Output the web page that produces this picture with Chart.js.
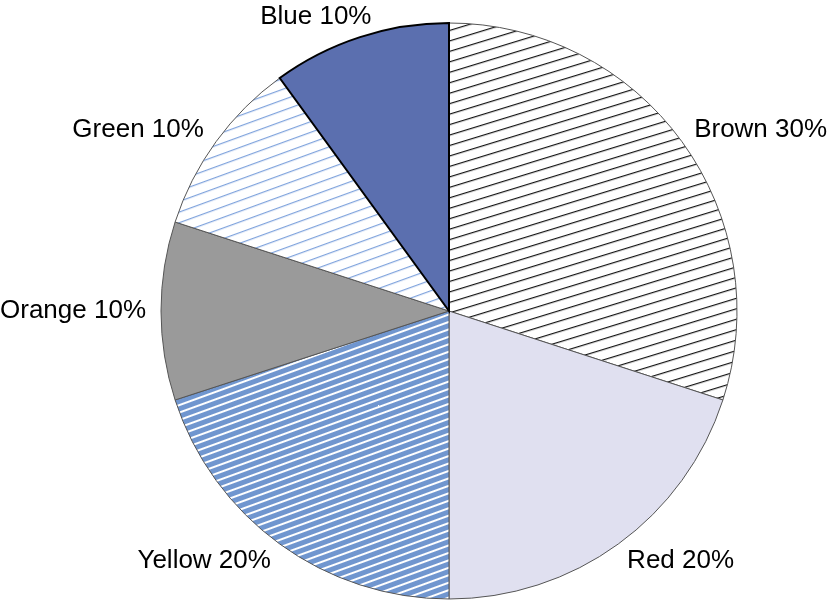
<!DOCTYPE html>
<html>
<head>
<meta charset="utf-8">
<script src="https://cdn.jsdelivr.net/npm/chart.js@4/dist/chart.umd.min.js"></script>
<style>
  html, body { margin: 0; padding: 0; background: #fff; }
  #wrap { width: 828px; height: 600px; position: relative; }
</style>
</head>
<body>
<div id="wrap"><canvas id="c" width="828" height="600"></canvas></div>
<script>
// ---- data ----
const categories = ['Brown', 'Red', 'Yellow', 'Orange', 'Green', 'Blue'];
const shares = [30, 20, 20, 10, 10, 10];

// ---- styles ----
function linePattern(bg, fg, period, lineW, angleDeg) {
  const c = document.createElement('canvas');
  c.width = 40; c.height = period;
  const x = c.getContext('2d');
  x.fillStyle = bg; x.fillRect(0, 0, c.width, c.height);
  x.fillStyle = fg; x.fillRect(0, 0, c.width, lineW);
  const p = x.createPattern(c, 'repeat');
  p.setTransform(new DOMMatrix().rotateSelf(-angleDeg));
  return p;
}
const fills = [
  linePattern('#ffffff', '#111111', 10, 1.2, 17),   // Brown
  '#e0e0f0',                                        // Red
  linePattern('#7096cf', '#ffffff', 7, 2, 20),      // Yellow
  '#9a9a9a',                                        // Orange
  linePattern('#ffffff', '#7ea2dc', 10, 1.2, 20),   // Green
  '#5b6faf'                                         // Blue
];
const borders = ['#555', '#555', '#555', '#555', '#555', '#000'];
const borderWidths = [1, 1, 1, 1, 1, 2];

const labelPlugin = {
  id: 'outerLabels',
  afterDatasetsDraw(chart) {
    const ctx = chart.ctx;
    const meta = chart.getDatasetMeta(0);
    ctx.save();
    ctx.font = '26px "Liberation Sans", Arial, Helvetica, sans-serif';
    ctx.fillStyle = '#000';
    ctx.textBaseline = 'middle';
    ctx.textAlign = 'left';
    meta.data.forEach((arc, i) => {
      const mid = (arc.startAngle + arc.endAngle) / 2;
      const r = arc.outerRadius + 15;
      const px = arc.x + Math.cos(mid) * r;
      const py = arc.y + Math.sin(mid) * r;
      const txt = categories[i] + ' ' + shares[i] + '%';
      const w = ctx.measureText(txt).width;
      const g = Math.min(1, Math.max(0, 0.5 - 1.15 * Math.cos(mid)));
      const tx = px - w * g;
      const ty = py + Math.sin(mid) * 6;
      ctx.fillText(txt, tx, ty);
    });
    ctx.restore();
  }
};

new Chart(document.getElementById('c'), {
  type: 'pie',
  data: {
    labels: categories,
    datasets: [{
      data: shares,
      backgroundColor: fills,
      borderColor: borders,
      borderWidth: borderWidths,
      borderJoinStyle: 'miter'
    }]
  },
  options: {
    responsive: false,
    animation: false,
    events: [],
    layout: { padding: { left: 160, right: 90, top: 22, bottom: 0 } },
    plugins: { legend: { display: false }, tooltip: { enabled: false } }
  },
  plugins: [labelPlugin]
});
</script>
</body>
</html>
